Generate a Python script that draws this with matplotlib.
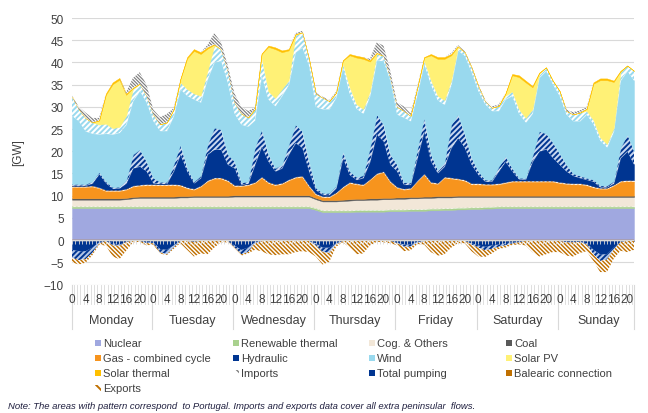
import numpy as np
import matplotlib
matplotlib.use('Agg')
import matplotlib.pyplot as plt
import matplotlib.transforms as mtransforms
from matplotlib.patches import Rectangle

plt.rcParams['font.family'] = ['Liberation Sans', 'DejaVu Sans']

days = ['Monday', 'Tuesday', 'Wednesday', 'Thursday', 'Friday', 'Saturday', 'Sunday']
hour_labels = ['0', '4', '8', '12', '16', '20']

# values every 2 hours (GW), one line per day
nuclear = [7.2] * 36 + [
    6.8, 6.3, 6.3, 6.3, 6.3, 6.3, 6.4, 6.4, 6.4, 6.4, 6.4, 6.5,
    6.5, 6.5, 6.6, 6.6, 6.6, 6.7, 6.7, 6.8, 6.8, 6.9, 6.9, 7.0,
    7.0, 7.1, 7.1, 7.2, 7.2, 7.2, 7.2, 7.2, 7.2, 7.2, 7.2, 7.2,
    7.2, 7.2, 7.2, 7.2, 7.2, 7.2, 7.2, 7.2, 7.2, 7.2, 7.2, 7.2]
renew_thermal = [0.3] * 84
renew_thermal_pt = [0.2] * 84
cog = [
    1.4, 1.4, 1.4, 1.4, 1.4, 1.4, 1.4, 1.4, 1.5, 1.7, 1.8, 1.8,
    1.8, 1.8, 1.8, 1.8, 1.9, 1.9, 2.0, 2.0, 2.0, 2.0, 2.0, 2.0,
    2.1, 2.1, 2.1, 2.1, 2.1, 2.1, 2.1, 2.1, 2.1, 2.1, 2.1, 2.1,
    1.9, 1.9, 1.9, 1.9, 2.0, 2.1, 2.1, 2.1, 2.2, 2.2, 2.3, 2.2,
    2.3, 2.3, 2.3, 2.3, 2.4, 2.3, 2.4, 2.3, 2.3, 2.3, 2.3, 2.2,
    2.2, 2.1, 2.1, 2.0, 2.0, 2.0, 2.0, 2.0, 2.0, 2.0, 2.0, 2.0,
    2.0, 2.0, 2.0, 2.0, 2.0, 2.0, 2.0, 2.0, 2.0, 2.0, 2.0, 2.0]
coal = [0.3] * 84
gas = [
    2.5, 2.5, 2.5, 2.6, 2.2, 1.6, 1.6, 1.6, 1.8, 2.3, 2.4, 2.5,
    2.5, 2.5, 2.5, 2.5, 2.3, 1.7, 1.3, 2.0, 3.2, 3.8, 3.8, 3.2,
    2.0, 2.0, 2.2, 2.7, 3.9, 2.7, 2.2, 2.5, 3.3, 3.9, 4.1, 1.9,
    0.7, 0.6, 0.6, 1.5, 2.7, 3.6, 3.2, 3.0, 4.1, 5.4, 5.7, 3.5,
    2.1, 1.7, 1.8, 3.5, 4.9, 3.0, 2.7, 4.1, 3.9, 3.6, 3.3, 2.5,
    2.5, 2.4, 2.4, 2.5, 2.8, 3.1, 3.1, 3.1, 3.1, 3.1, 3.1, 3.1,
    2.8, 2.6, 2.5, 2.5, 2.3, 1.8, 1.5, 1.5, 2.2, 3.1, 3.2, 3.2]
gas_pt = [0.3] * 84
hydro = [
    0.1, 0.1, 0.1, 0.5, 3.0, 1.5, 0.3, 0.4, 1.2, 3.9, 4.1, 2.9,
    0.2, 0.1, 0.1, 2.9, 6.8, 3.6, 1.2, 1.7, 5.8, 6.3, 6.3, 3.5,
    3.8, 0.1, 0.1, 3.9, 6.8, 4.6, 2.9, 3.3, 5.6, 7.6, 6.3, 3.2,
    0.8, 0.3, 0.3, 0.9, 6.4, 1.6, 0.8, 1.4, 3.9, 8.7, 6.8, 3.7,
    3.5, 0.9, 0.7, 5.0, 9.5, 4.6, 2.2, 2.3, 6.7, 9.1, 7.2, 4.2,
    1.9, 0.5, 0.5, 2.7, 4.6, 2.1, 0.3, 0.3, 4.3, 6.6, 7.1, 5.1,
    3.9, 2.6, 1.7, 1.2, 1.0, 1.1, 0.1, 0.1, 0.3, 5.1, 6.5, 3.5]
hydro_pt = [
    0.3, 0.3, 0.3, 0.4, 0.4, 0.4, 0.3, 0.3, 0.7, 3.1, 3.8, 2.2,
    1.2, 0.4, 0.4, 1.5, 2.2, 0.7, 0.4, 0.5, 2.2, 4.9, 4.5, 2.3,
    1.5, 0.5, 0.4, 3.8, 3.8, 1.6, 0.7, 0.8, 2.2, 4.1, 3.7, 2.2,
    0.5, 0.4, 0.4, 0.5, 1.5, 0.8, 0.6, 0.6, 3.1, 4.5, 3.7, 2.3,
    1.5, 0.5, 0.5, 2.0, 3.1, 1.6, 0.7, 0.9, 5.2, 5.3, 3.0, 1.5,
    0.8, 0.4, 0.4, 1.0, 1.2, 0.7, 0.3, 0.3, 1.3, 4.5, 3.5, 3.5,
    2.5, 1.5, 0.5, 0.5, 0.4, 0.4, 0.4, 0.4, 0.5, 2.3, 3.8, 3.0]
wind = [
    15.4, 14.2, 11.9, 10.8, 8.5, 10.8, 11.9, 12.2, 12.5, 12.0, 13.2, 13.3,
    12.8, 11.5, 11.5, 10.9, 12.5, 16.3, 18.5, 16.5, 14.7, 14.7, 15.5, 16.2,
    10.8, 13.0, 12.5, 6.2, 12.1, 12.4, 14.0, 15.5, 13.5, 16.3, 18.9, 21.6,
    18.2, 18.9, 18.9, 19.9, 18.9, 17.5, 15.4, 13.9, 11.7, 12.1, 14.4, 16.6,
    11.3, 14.6, 13.8, 12.4, 12.1, 15.7, 15.7, 13.0, 9.0, 14.4, 17.7, 19.3,
    18.1, 17.0, 15.5, 12.6, 12.8, 16.3, 14.5, 12.5, 9.5, 12.1, 14.1, 13.1,
    13.0, 11.3, 11.8, 12.3, 14.3, 12.5, 10.1, 8.6, 11.2, 15.1, 14.3, 15.9]
wind_pt = [
    4.3, 2.7, 3.0, 2.5, 2.2, 2.2, 1.4, 1.3, 2.0, 2.7, 1.6, 1.5,
    1.5, 1.5, 1.9, 1.5, 1.5, 1.5, 1.3, 1.5, 1.8, 3.8, 2.6, 2.6,
    2.5, 2.5, 2.0, 2.5, 4.0, 1.8, 1.8, 1.5, 1.0, 3.8, 3.4, 1.5,
    3.0, 2.6, 1.8, 1.1, 0.8, 1.4, 1.0, 1.0, 1.0, 1.5, 1.1, 0.7,
    1.7, 1.5, 1.2, 1.5, 0.7, 1.0, 1.0, 1.0, 1.0, 0.7, 0.8, 1.1,
    1.1, 0.7, 0.7, 1.1, 0.8, 1.0, 1.0, 1.0, 1.0, 0.8, 0.8, 0.8,
    1.1, 0.8, 1.5, 1.9, 0.8, 0.9, 0.7, 0.7, 0.8, 1.9, 1.2, 2.2]
solar_pv = [
    0, 0, 0, 0, 0.9, 6.5, 9.9, 10.6, 4.7, 0.2, 0, 0,
    0, 0, 0, 0, 0.7, 6.9, 9.6, 9.4, 5.1, 0.2, 0, 0,
    0, 0, 0, 0, 0.9, 10.0, 11.0, 8.3, 6.7, 0.2, 0, 0,
    0, 0, 0, 0, 0.7, 7.2, 10.5, 11.3, 6.7, 0.2, 0, 0,
    0, 0, 0, 0, 0.7, 5.6, 8.3, 9.3, 5.6, 0.2, 0, 0,
    0, 0, 0, 0, 0.4, 3.6, 7.2, 8.0, 4.9, 0.2, 0, 0,
    0, 0, 0, 0, 0.4, 8.2, 12.9, 14.4, 10.3, 0.2, 0, 0]
solar_thermal = [
    0, 0, 0, 0, 0.1, 0.3, 0.4, 0.4, 0.3, 0.1, 0, 0,
    0, 0, 0, 0, 0.1, 0.3, 0.4, 0.4, 0.3, 0.1, 0, 0,
    0, 0, 0, 0, 0.1, 0.3, 0.4, 0.4, 0.3, 0.1, 0, 0,
    0, 0, 0, 0, 0.1, 0.3, 0.4, 0.4, 0.3, 0.1, 0, 0,
    0, 0, 0, 0, 0.1, 0.3, 0.4, 0.4, 0.3, 0.1, 0, 0,
    0, 0, 0, 0, 0.1, 0.3, 0.4, 0.4, 0.3, 0.1, 0, 0,
    0, 0, 0, 0, 0.1, 0.3, 0.4, 0.4, 0.3, 0.1, 0, 0]
imports = [
    0.2, 0.5, 1.2, 1.0, 0.5, 0, 0, 0, 0.3, 2.2, 2.6, 2.5,
    1.1, 1.6, 1.9, 0.3, 0, 0, 0, 0, 0.5, 2.5, 1.6, 1.2,
    2.0, 1.5, 1.5, 0.3, 0, 0, 0, 0, 0, 0.2, 0.3, 0.2,
    0.2, 0.2, 0.2, 0.2, 0, 0, 0, 0, 0.3, 2.3, 2.3, 1.5,
    1.0, 1.0, 0.5, 0.2, 0, 0, 0, 0, 0.2, 0.2, 0.2, 0.2,
    0.2, 0.3, 0.3, 0.3, 0, 0, 0, 0, 0, 0, 0, 0,
    0, 0.3, 0.5, 0.5, 0.3, 0, 0, 0, 0, 0, 0, 0]

balearic = [-0.2] * 84
pumping = [
    -2.0, -2.3, -2.3, -1.5, -0.3, 0, -0.5, -0.8, -0.2, 0, 0, -0.3,
    -0.3, -1.8, -2.0, -1.0, 0, 0, -0.2, 0, 0, 0, 0, 0,
    -1.0, -2.0, -1.5, -0.3, 0, 0, 0, 0, 0, 0, 0, 0,
    -0.5, -1.5, -1.5, -0.5, 0, 0, 0, 0, 0, 0, 0, 0,
    -0.3, -0.8, -0.8, -0.2, 0, 0, 0, 0, 0, 0, 0, -0.5,
    -1.0, -1.3, -1.0, -0.8, -0.5, -0.3, -0.3, 0, 0, 0, 0, 0,
    0, -0.3, -0.3, -0.2, -0.5, -2.0, -3.0, -3.0, -1.5, -0.2, 0, 0]
pumping_pt = [
    -1.8, -2.0, -1.8, -1.2, -0.3, 0, -0.5, -0.3, 0, 0, 0, -0.2,
    -0.2, -0.8, -1.0, -0.5, 0, 0, 0, 0, 0, 0, 0, 0,
    -0.5, -1.0, -1.0, -0.2, 0, 0, 0, 0, 0, 0, 0, 0,
    -0.5, -1.0, -1.2, -0.3, 0, 0, 0, 0, 0, 0, 0, 0,
    -0.2, -0.5, -0.5, -0.2, 0, 0, 0, 0, 0, 0, 0, -0.3,
    -0.5, -0.8, -0.8, -0.5, -0.5, -0.3, 0, 0, 0, 0, 0, 0,
    0, 0, 0, 0, -0.3, -1.0, -1.5, -1.2, -0.5, 0, 0, 0]
exports = [
    -1.0, -1.0, -0.8, -0.5, -0.3, -1.0, -2.5, -3.0, -2.0, -0.3, -0.2, -0.5,
    -0.3, -0.2, -0.2, -0.3, -0.5, -2.0, -3.3, -2.8, -3.0, -1.5, -0.3, -0.3,
    -0.3, -0.3, -0.3, -1.5, -2.3, -3.0, -3.2, -3.0, -3.0, -2.5, -2.3, -2.5,
    -2.5, -2.8, -2.0, -0.5, -0.3, -1.5, -3.0, -2.8, -1.0, -0.2, -0.3, -0.5,
    -0.5, -1.0, -0.8, -0.3, -0.8, -2.5, -3.3, -3.0, -1.5, -0.5, -0.5, -1.5,
    -2.0, -1.5, -1.0, -0.5, -0.5, -0.3, -0.5, -1.0, -2.5, -3.5, -3.0, -2.5,
    -2.5, -3.0, -3.2, -2.5, -1.5, -1.5, -2.5, -2.8, -2.0, -2.0, -2.5, -2.0]

hours = np.arange(0, 168, 2)

c_nuc = '#A0A8E0'
c_rt = '#A9D18E'
c_cog = '#F2E7D8'
c_coal = '#595959'
c_gas = '#F7941D'
c_hyd = '#003591'
c_wind = '#99D9EE'
c_pv = '#FFF176'
c_st = '#FFC000'
c_imp = '#7F7F7F'
c_bal = '#C07000'
c_text = '#404040'

fig = plt.figure(figsize=(6.48, 4.14), dpi=100)
ax = fig.add_axes([72 / 648, 1 - 285.5 / 414, 562 / 648, 266.5 / 414])

# hatch styles: (pattern, line width in points)
wide = ('//////', 1.4)
fine_up = ('////////', 1.0)
fine_down = ('\\' * 10, 0.85)
mid_down = ('\\' * 8, 1.05)


def hatched(x, y0, y1, face, stripe, style):
    with plt.rc_context({'hatch.linewidth': style[1]}):
        pc = ax.fill_between(x, y0, y1, facecolor=face, edgecolor=stripe,
                             hatch=style[0], linewidth=0, zorder=2)
    return pc


def stack(layers):
    base = np.zeros(len(hours))
    for vals, face, stripe, style in layers:
        top = base + np.array(vals)
        if style:
            hatched(hours, base, top, face, stripe, style)
        else:
            ax.fill_between(hours, base, top, facecolor=face, edgecolor=face,
                            linewidth=0.3, zorder=2)
        base = top


stack([
    (nuclear, c_nuc, None, None),
    (renew_thermal, c_rt, None, None),
    (renew_thermal_pt, 'white', c_rt, fine_up),
    (cog, c_cog, None, None),
    (coal, c_coal, None, None),
    (gas, c_gas, None, None),
    (gas_pt, 'white', c_gas, fine_up),
    (hydro, c_hyd, None, None),
    (hydro_pt, '#C9D7F0', c_hyd, wide),
    (wind, c_wind, None, None),
    (wind_pt, 'white', c_wind, wide),
    (solar_pv, c_pv, None, None),
    (solar_thermal, c_st, None, None),
    (imports, 'white', c_imp, fine_down),
])
stack([
    (balearic, c_bal, None, None),
    (pumping, c_hyd, None, None),
    (pumping_pt, '#B4C7E7', c_hyd, wide),
    (exports, 'white', c_bal, mid_down),
])

ax.set_xlim(0, 166)
ax.set_ylim(-10, 50)
ax.set_yticks(range(-10, 51, 5))
ax.tick_params(axis='y', length=0, labelsize=8.5, labelcolor=c_text, pad=6)
ax.set_xticks([])
for s in ax.spines.values():
    s.set_visible(False)
ax.grid(axis='y', color='#D9D9D9', linewidth=0.8)
ax.set_axisbelow(True)
ax.set_ylabel('[GW]', fontsize=8.5, color=c_text, labelpad=14)

# axis line at zero with hourly ticks
ax.axhline(0, color='#D9D9D9', linewidth=0.8, zorder=3)
ax.vlines(np.arange(0, 167), -0.9, 0, color='#D9D9D9', linewidth=0.6, zorder=3)

# two-level category axis
trans = mtransforms.blended_transform_factory(ax.transData, ax.transAxes)
for b in np.arange(0.5, 166, 1.0):
    ax.plot([b, b], [0, -0.075], transform=trans, color='#D9D9D9',
            linewidth=0.6, clip_on=False, zorder=1)
for d in range(7):
    for k, lab in enumerate(hour_labels):
        ax.text(24 * d + 4 * k, -0.054, lab, transform=trans, ha='center',
                va='center', fontsize=8.5, color=c_text)
    ax.text(24 * d + 11.5, -0.133, days[d], transform=trans, ha='center',
            va='center', fontsize=9, color=c_text)
for d in range(1, 7):
    ax.plot([24 * d - 0.5] * 2, [0, -0.168], transform=trans, color='#D9D9D9',
            linewidth=0.8, clip_on=False)
for xa in (0, 1):
    ax.plot([xa, xa], [0, -0.168], transform=ax.transAxes, color='#D9D9D9',
            linewidth=0.8, clip_on=False)

# legend
legend_items = [
    ('Nuclear', c_nuc, None, None), ('Renewable thermal', c_rt, None, None),
    ('Cog. & Others', c_cog, None, None), ('Coal', c_coal, None, None),
    ('Gas - combined cycle', c_gas, None, None), ('Hydraulic', c_hyd, None, None),
    ('Wind', c_wind, None, None), ('Solar PV', c_pv, None, None),
    ('Solar thermal', c_st, None, None), ('Imports', 'white', c_imp, ('\\\\\\', 1.0)),
    ('Total pumping', c_hyd, None, None), ('Balearic connection', c_bal, None, None),
    ('Exports', 'white', c_bal, ('\\\\\\', 1.4)),
]
col_x = [95, 233, 369, 506]
row_y = [344, 359, 374, 389]
for i, (name, face, stripe, style) in enumerate(legend_items):
    px, py = col_x[i % 4], row_y[i // 4]
    with plt.rc_context({'hatch.linewidth': style[1] if style else 1.0}):
        rect = Rectangle((px / 648, 1 - (py + 3) / 414), 6 / 648, 6 / 414,
                         transform=fig.transFigure, facecolor=face,
                         edgecolor=stripe if style else face,
                         hatch=style[0] if style else None, linewidth=0)
    fig.patches.append(rect)
    fig.text((px + 8) / 648, 1 - py / 414, name, fontsize=8, color=c_text,
             va='center', ha='left')

fig.text(8 / 648, 1 - 407 / 414,
         'Note: The areas with pattern correspond  to Portugal. Imports and exports '
         'data cover all extra peninsular  flows.',
         fontsize=6.8, style='italic', color='#1F1F3F', va='center', ha='left')

fig.savefig('out.png', dpi=100)
